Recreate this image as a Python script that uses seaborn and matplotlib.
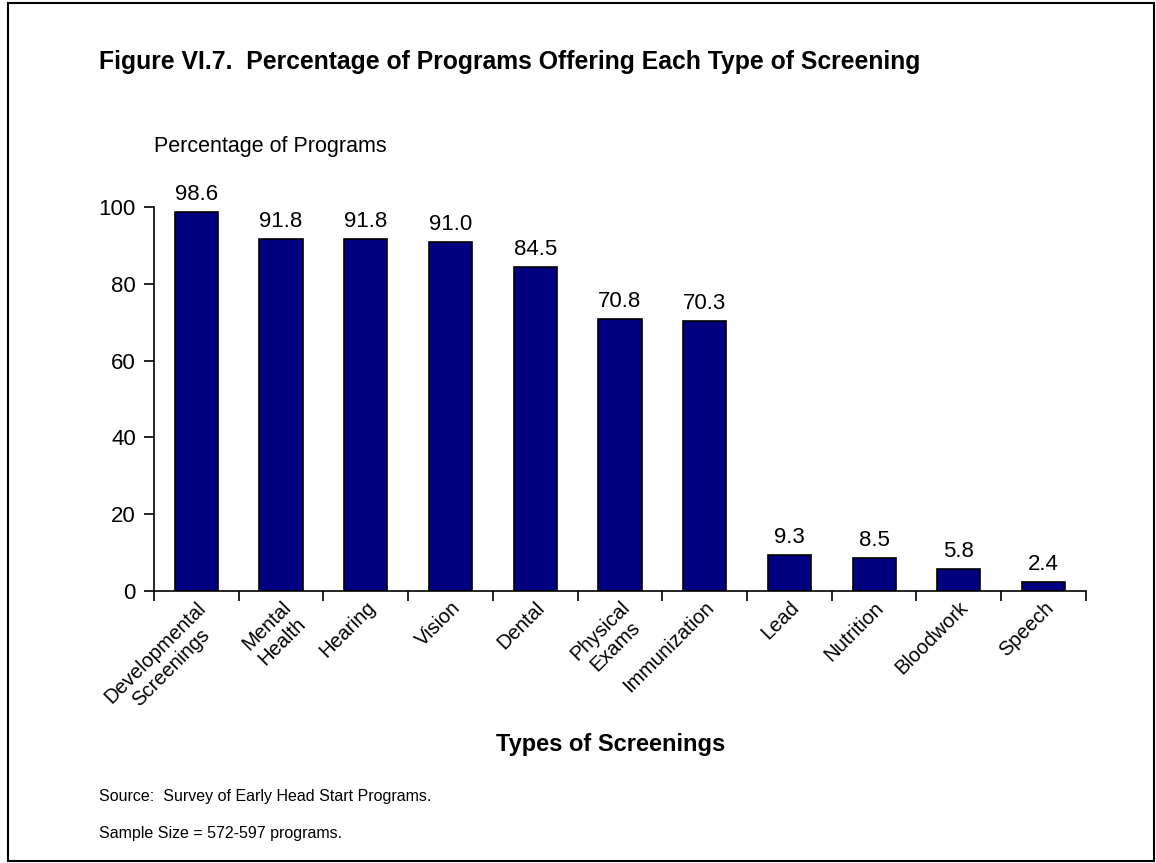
import matplotlib
matplotlib.use('Agg')
import matplotlib.pyplot as plt
import seaborn as sns
import pandas as pd
import numpy as np
from matplotlib.patches import Rectangle

sns.set_style('white')
plt.rcParams['font.family'] = ['Liberation Sans', 'DejaVu Sans']
plt.rcParams['text.color'] = 'black'
plt.rcParams['xtick.color'] = 'black'
plt.rcParams['ytick.color'] = 'black'
plt.rcParams['axes.labelcolor'] = 'black'

# data
categories = ['Developmental\nScreenings', 'Mental\nHealth', 'Hearing', 'Vision', 'Dental',
              'Physical\nExams', 'Immunization', 'Lead', 'Nutrition', 'Bloodwork', 'Speech']
values = [98.6, 91.8, 91.8, 91.0, 84.5, 70.8, 70.3, 9.3, 8.5, 5.8, 2.4]
y_ticks = [0, 20, 40, 60, 80, 100]

df = pd.DataFrame({'screening': categories, 'pct': values})

fig = plt.figure(figsize=(11.56, 8.63), dpi=100)
ax = fig.add_axes([0.1332, 0.3152, 0.8062, 0.4449])

sns.barplot(data=df, x='screening', y='pct', color='#000080', edgecolor='black',
            linewidth=1.2, width=0.51, saturation=1, ax=ax)

# value labels
for i, v in enumerate(values):
    ax.annotate(f'{v:.1f}', (i, v), xytext=(0, 5), textcoords='offset points',
                ha='center', va='bottom', fontsize=16)

ax.set_xlim(-0.5, len(categories) - 0.5)
ax.set_ylim(0, 100)
ax.set_yticks(y_ticks)
ax.tick_params(axis='y', labelsize=16, length=7, width=1.2, direction='out', left=True, pad=6)

# category labels at bar centres, ticks at the category boundaries
ax.set_xticks(range(len(categories)))
ax.set_xticklabels(categories, rotation=45, ha='right', va='top', rotation_mode='anchor',
                   fontsize=14.5, multialignment='center')
ax.tick_params(axis='x', length=0, pad=5)
ax.set_xticks(np.arange(-0.5, len(categories)), minor=True)
ax.tick_params(axis='x', which='minor', length=7, width=1.2, direction='out', bottom=True)

for side in ['top', 'right']:
    ax.spines[side].set_visible(False)
for side in ['left', 'bottom']:
    ax.spines[side].set_color('black')
    ax.spines[side].set_linewidth(1.2)

ax.set_xlabel('')
ax.set_ylabel('')

fig.text(0.0856, 0.928, 'Figure VI.7.  Percentage of Programs Offering Each Type of Screening',
         fontsize=17.8, fontweight='bold', va='center', ha='left')
fig.text(0.1332, 0.830, 'Percentage of Programs', fontsize=15.5, va='center', ha='left')
fig.text(0.528, 0.137, 'Types of Screenings', fontsize=17, fontweight='bold',
         va='center', ha='center')
fig.text(0.0856, 0.077, 'Source:  Survey of Early Head Start Programs.', fontsize=11.5,
         va='center', ha='left')
fig.text(0.0856, 0.034, 'Sample Size = 572-597 programs.', fontsize=11.5,
         va='center', ha='left')

# outer frame
fig.patches.append(Rectangle((0.007, 0.002), 0.991, 0.995, transform=fig.transFigure,
                             fill=False, edgecolor='black', linewidth=1.5))

fig.savefig('out.png', dpi=100)
